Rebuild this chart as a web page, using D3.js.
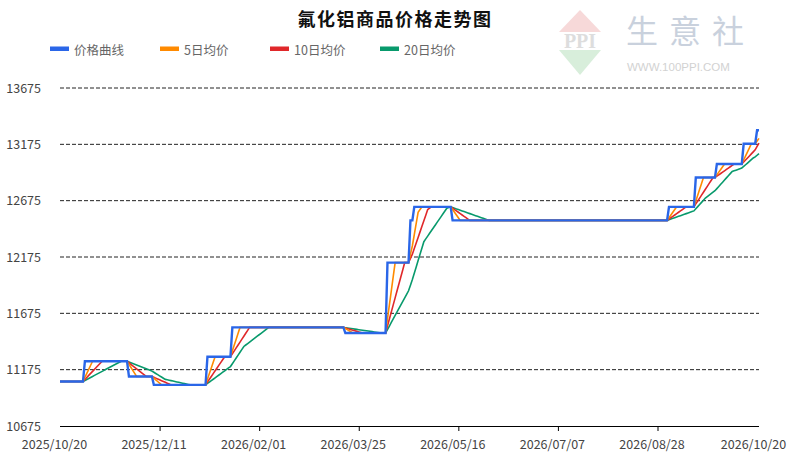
<!DOCTYPE html>
<html><head><meta charset="utf-8">
<script src="https://cdn.jsdelivr.net/npm/d3@7"></script>
<style>
body{margin:0;background:#fff;}
svg{display:block;font-family:"Noto Sans CJK SC","Noto Sans",sans-serif;}
</style></head>
<body><svg id="c" width="790" height="458"></svg>
<script>
// ---- data ----
const title = "氟化铝商品价格走势图";
const seriesNames = ["价格曲线", "5日均价", "10日均价", "20日均价"];
const seriesColors = ["#2a66e8", "#ff8a00", "#e0282a", "#089a6c"];
const maWindows = [5, 10, 20];
const startDate = "2025/10/20";
const endDate = "2026/10/20";
// price change records: date the price took effect, and the price
const changeDates = ["2025/10/20","2025/11/02","2025/11/25","2025/12/08","2026/01/05","2026/01/18",
  "2026/03/18","2026/04/09","2026/04/21","2026/04/23","2026/05/13","2026/09/03","2026/09/17",
  "2026/09/28","2026/10/12","2026/10/19"];
const changePrices = [11070, 11250, 11115, 11040, 11290, 11550, 11500, 12125, 12500, 12620, 12500,
  12620, 12880, 13000, 13180, 13300];
const yTicks = [10675, 11175, 11675, 12175, 12675, 13175, 13675];
const xTickLabels = ["2025/10/20","2025/12/11","2026/02/01","2026/03/25","2026/05/16","2026/07/07","2026/08/28","2026/10/20"];

// ---- build daily series (price holds until next change) ----
const parse = d3.timeParse("%Y/%m/%d");
const days = d3.timeDay.range(parse(startDate), d3.timeDay.offset(parse(endDate), 1));
const changes = changeDates.map((d, i) => ({date: parse(d), v: changePrices[i]}));
const daily = days.map(d => {
  let v = changes[0].v;
  for (const c of changes) if (c.date <= d) v = c.v;
  return {date: d, v};
});
function ma(n) {
  return daily.map((p, i) => {
    let s = 0;
    for (let k = i - n + 1; k <= i; k++) s += daily[Math.max(0, k)].v;
    return {date: p.date, v: s / n};
  });
}

// ---- chart ----
const svg = d3.select("#c");
const x = d3.scaleTime().domain([parse(startDate), parse(endDate)]).range([60, 759]);
const y = d3.scaleLinear().domain([10675, 13675]).range([426, 88]);

// watermark
const wm = svg.append("g");
wm.append("path").attr("d", "M580,10 L601,32 L559,32 Z").attr("fill", "#f7d9d9");
wm.append("path").attr("d", "M559,50 L601,50 L580,75 Z").attr("fill", "#d8eedb");
wm.append("text").attr("x", 580).attr("y", 48).attr("text-anchor", "middle")
  .attr("font-family", "Liberation Serif, serif").attr("font-size", 20).attr("font-weight", "bold")
  .attr("fill", "#dddddd").text("PPI");
wm.append("text").attr("x", 626).attr("y", 43).attr("font-size", 32).attr("letter-spacing", 11)
  .attr("fill", "#c9d1dd").text("生意社");
wm.append("text").attr("x", 627).attr("y", 71).attr("font-size", 11.5).attr("font-family", "Liberation Sans, Arial, sans-serif")
  .attr("fill", "#d2d2d2").text("WWW.100PPI.COM");

// title
svg.append("text").attr("x", 395).attr("y", 26).attr("text-anchor", "middle")
  .attr("font-size", 18).attr("font-weight", "bold").attr("letter-spacing", 1.5).attr("fill", "#111").text(title);

// legend
const legX = [50, 160, 270, 380];
const leg = svg.append("g").selectAll("g").data(seriesNames).join("g")
  .attr("transform", (d, i) => `translate(${legX[i]},0)`);
leg.append("rect").attr("x", 0).attr("y", 46.5).attr("width", 19).attr("height", 4.5)
  .attr("fill", (d, i) => seriesColors[i]);
leg.append("text").attr("x", 24).attr("y", 49).attr("dominant-baseline", "central")
  .attr("font-size", 12.5).attr("fill", "#666").text(d => d);

// grid
svg.append("g").selectAll("line").data(yTicks.filter(t => t !== 10675)).join("line")
  .attr("x1", 60).attr("x2", 759).attr("y1", d => y(d)).attr("y2", d => y(d))
  .attr("stroke", "#222").attr("stroke-width", 1).attr("stroke-dasharray", "4,2");

// y axis labels
const yAxis = svg.append("g").attr("transform", "translate(41,0)")
  .call(d3.axisLeft(y).tickValues(yTicks).tickSize(0).tickPadding(0).tickFormat(d3.format("d")));
yAxis.select(".domain").remove();
yAxis.selectAll("text").attr("font-size", 12.5).attr("fill", "#444").attr("font-family", "Noto Sans CJK SC, sans-serif");

// x axis
const xDates = xTickLabels.map(parse);
const xAxis = svg.append("g").attr("transform", `translate(0,${y(10675)})`)
  .call(d3.axisBottom(x).tickValues(xDates).tickSize(5).tickPadding(9).tickFormat(d3.timeFormat("%Y/%m/%d")));
xAxis.select(".domain").attr("d", `M60,0.5H759`).attr("stroke", "#000");
xAxis.selectAll(".tick line").attr("stroke", "#000")
  .attr("opacity", (d, i) => (i === 0 || i === xDates.length - 1) ? 0 : 1);
xAxis.selectAll("text").attr("font-size", 12.5).attr("fill", "#444").attr("dx", -6)
  .attr("font-family", "Noto Sans CJK SC, sans-serif");

// lines
const line = d3.line().x(d => x(d.date)).y(d => y(d.v));
const maSeries = maWindows.map(ma);
[2, 1, 0].forEach(i => {
  svg.append("path").datum(maSeries[i]).attr("d", line).attr("fill", "none")
    .attr("stroke", seriesColors[i + 1]).attr("stroke-width", 1.6);
});
svg.append("path").datum(daily).attr("d", line).attr("fill", "none")
  .attr("stroke", seriesColors[0]).attr("stroke-width", 2.4);
</script></body></html>
